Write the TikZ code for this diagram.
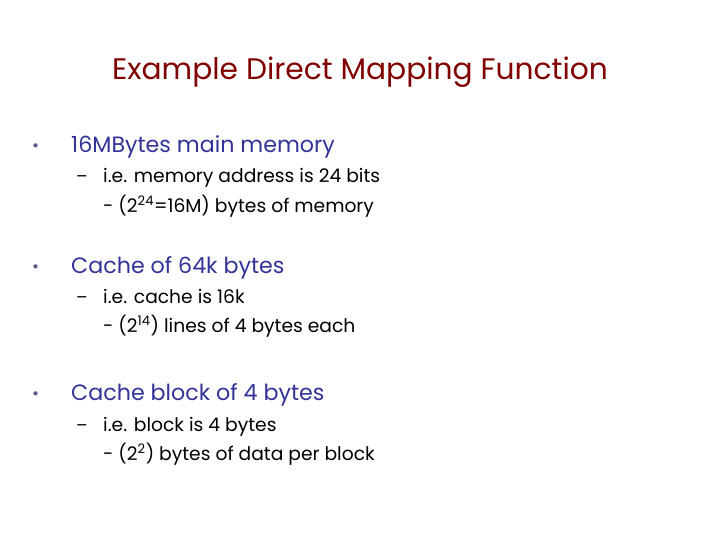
\documentclass[tikz,border=0pt]{standalone}
\usepackage{fontspec}
\setmainfont{Poppins}
\definecolor{titlered}{HTML}{800000}
\definecolor{bulletblue}{HTML}{333399}
\definecolor{dotgray}{HTML}{5A5A8A}
\begin{document}
\begin{tikzpicture}[x=1pt,y=-1pt,
  titlestyle/.style={anchor=base,inner sep=0pt,text=titlered,font=\fontsize{29.7}{34}\selectfont},
  bul/.style={anchor=base west,inner sep=0pt,text=dotgray,font=\fontsize{17}{24}\selectfont},
  lvlone/.style={anchor=base west,inner sep=0pt,text=bulletblue,font=\fontsize{22.2}{25}\selectfont},
  dashmark/.style={anchor=base west,inner sep=0pt,font=\fontsize{17}{20}\selectfont},
  lvltwo/.style={anchor=base west,inner sep=0pt,text=black,font=\fontsize{18.7}{20}\selectfont}]
\useasboundingbox[fill=white] (0,0) rectangle (720,540);
\node[titlestyle] (title) at (360,80) {Example Direct Mapping Function};
% bullet 1
\node[bul] (b1) at (32,152) {•};
\node[lvlone] (t1) at (71,153) {16MBytes main memory};
\node[dashmark] (d1) at (76,183) {–};
\node[lvltwo] (s1a) at (103,183) {i.e. memory address is 24 bits};
\node[lvltwo] (s1b) at (103,212) {- (2\textsuperscript{24}=16M) bytes of memory};
% bullet 2
\node[bul] (b2) at (32,272) {•};
\node[lvlone] (t2) at (71,273) {Cache of 64k bytes};
\node[dashmark] (d2) at (76,303) {–};
\node[lvltwo] (s2a) at (103,303) {i.e. cache is 16k};
\node[lvltwo] (s2b) at (103,332) {- (2\textsuperscript{14}) lines of 4 bytes each};
% bullet 3
\node[bul] (b3) at (32,399) {•};
\node[lvlone] (t3) at (71,400) {Cache block of 4 bytes};
\node[dashmark] (d3) at (76,431) {–};
\node[lvltwo] (s3a) at (103,431) {i.e. block is 4 bytes};
\node[lvltwo] (s3b) at (103,460) {- (2\textsuperscript{2}) bytes of data per block};
\end{tikzpicture}
\end{document}
